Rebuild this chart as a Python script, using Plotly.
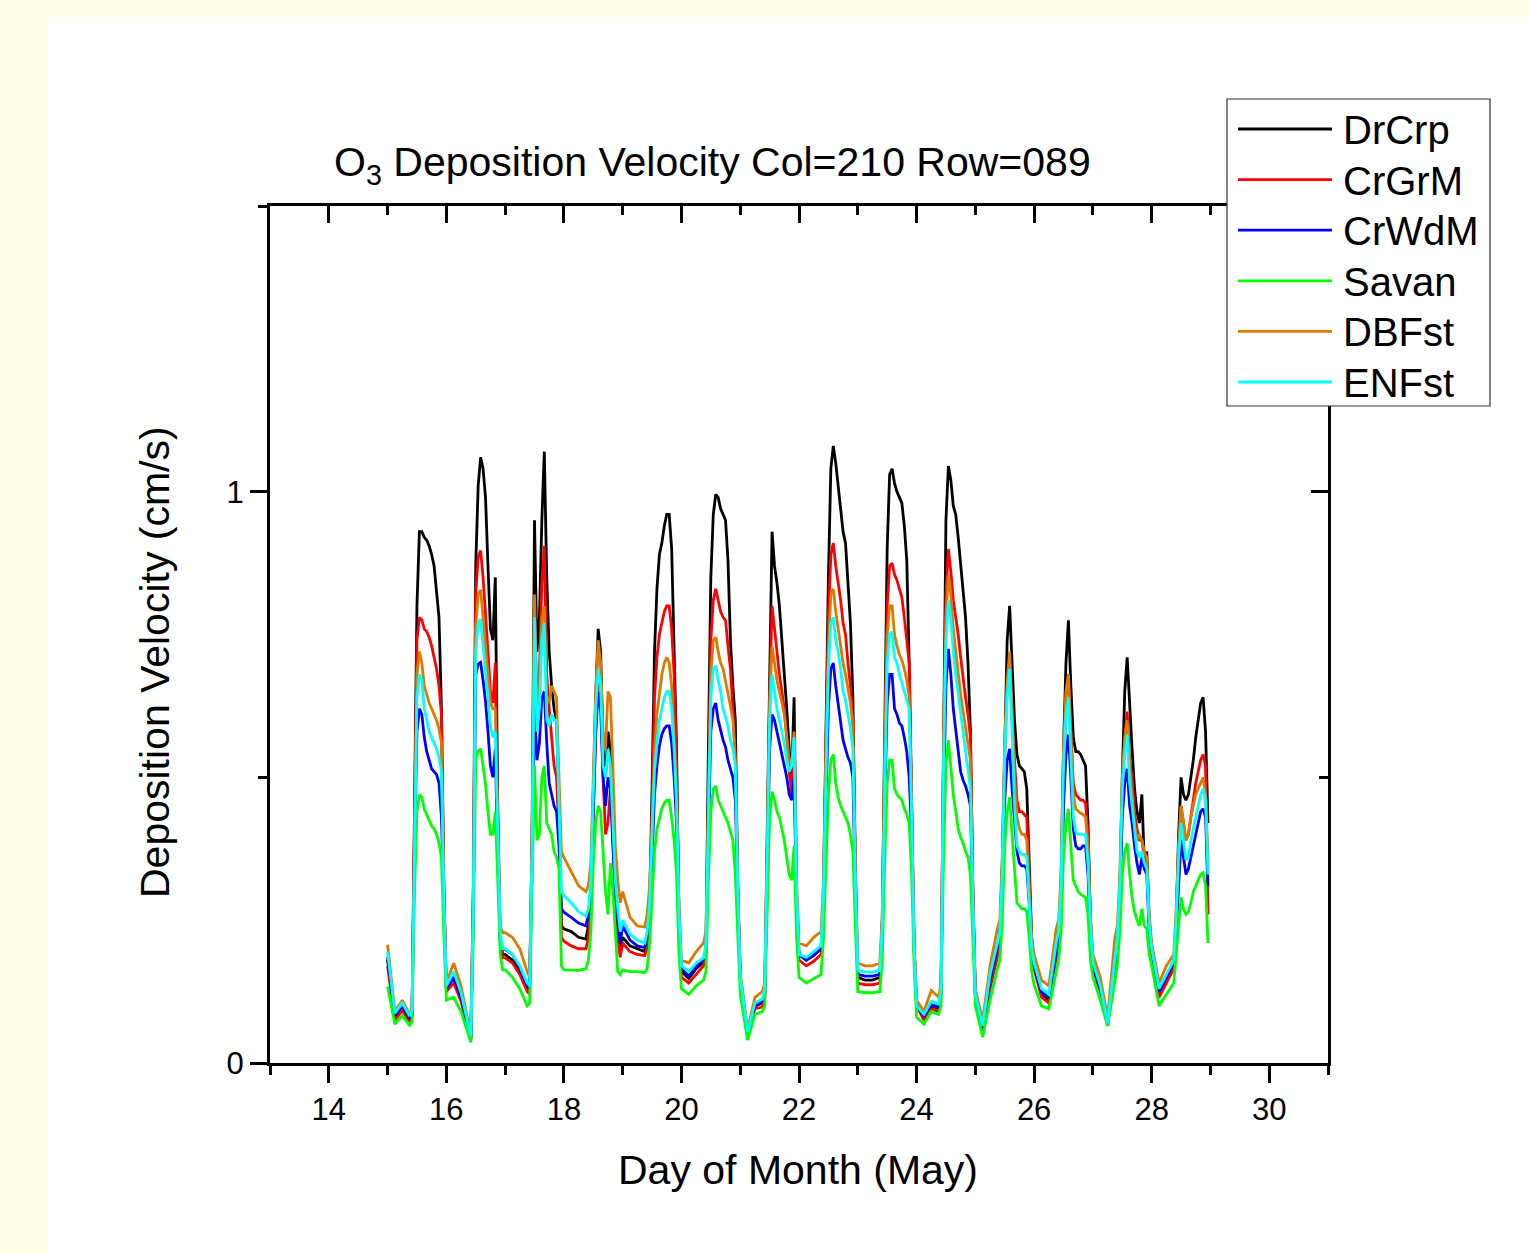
import plotly.graph_objects as go

# ---------------- data ----------------
days = list(range(15, 29))
hours = [0, 3, 6, 9, 10, 11, 12, 13, 14, 15, 16, 17, 18, 19, 20, 21, 22, 23]

drcrp = [
 .18,.08,.095,.076,.085,.45,.80,.93,.93,.92,.915,.905,.89,.87,.83,.78,.62,.30,
 .13,.15,.115,.06,.043,.30,.87,1.01,1.06,1.04,.99,.87,.76,.74,.85,.45,.22,.19,
 .19,.18,.16,.13,.125,.40,.95,.72,.78,.95,1.07,.85,.72,.66,.62,.60,.45,.24,
 .235,.23,.22,.217,.24,.30,.50,.64,.76,.72,.55,.50,.58,.55,.42,.30,.24,.20,
 .22,.205,.20,.195,.21,.28,.48,.72,.83,.89,.91,.94,.96,.96,.90,.72,.55,.25,
 .16,.148,.165,.177,.20,.55,.85,.96,.995,.99,.97,.96,.95,.88,.74,.66,.60,.30,
 .15,.05,.10,.105,.12,.40,.70,.93,.87,.84,.80,.74,.69,.62,.55,.50,.64,.30,
 .19,.18,.188,.20,.30,.60,.85,1.04,1.08,1.05,1.01,.98,.93,.91,.84,.77,.64,.35,
 .15,.145,.145,.15,.25,.60,.90,1.03,1.04,1.015,1.00,.99,.98,.94,.88,.70,.45,.20,
 .10,.08,.10,.095,.13,.60,.95,1.045,1.02,.975,.96,.92,.875,.83,.78,.70,.58,.30,
 .12,.06,.14,.195,.22,.35,.58,.74,.80,.70,.60,.54,.52,.515,.51,.48,.35,.22,
 .17,.12,.11,.195,.22,.32,.55,.70,.775,.66,.57,.545,.545,.54,.53,.52,.42,.25,
 .17,.13,.07,.16,.21,.30,.50,.65,.71,.62,.55,.48,.44,.42,.47,.35,.37,.25,
 .20,.12,.145,.17,.25,.40,.50,.47,.46,.47,.50,.53,.57,.60,.63,.64,.58,.42,
]
crgrm = [
 .17,.075,.092,.072,.08,.42,.74,.78,.775,.76,.755,.745,.73,.71,.69,.66,.61,.30,
 .125,.14,.108,.055,.04,.28,.82,.886,.897,.85,.79,.72,.65,.63,.70,.40,.21,.184,
 .184,.175,.155,.125,.12,.38,.80,.62,.68,.84,.905,.68,.62,.57,.52,.50,.40,.22,
 .213,.205,.20,.20,.22,.28,.45,.58,.68,.66,.50,.40,.42,.48,.40,.28,.22,.185,
 .21,.195,.19,.188,.20,.26,.44,.64,.71,.75,.77,.79,.80,.80,.76,.68,.52,.25,
 .15,.14,.155,.17,.19,.50,.74,.81,.83,.81,.79,.78,.775,.73,.69,.62,.54,.30,
 .15,.05,.095,.098,.11,.36,.64,.80,.76,.71,.68,.65,.62,.57,.51,.47,.55,.28,
 .18,.17,.178,.19,.28,.55,.78,.89,.91,.87,.84,.81,.77,.75,.70,.66,.60,.32,
 .14,.137,.137,.14,.23,.55,.80,.87,.875,.855,.845,.83,.815,.78,.74,.70,.45,.20,
 .10,.075,.095,.09,.12,.55,.82,.90,.86,.81,.78,.75,.71,.67,.64,.61,.57,.30,
 .12,.055,.13,.185,.21,.33,.54,.66,.70,.60,.52,.46,.44,.44,.435,.43,.33,.21,
 .165,.115,.105,.19,.21,.30,.50,.64,.68,.58,.49,.47,.465,.46,.46,.455,.40,.24,
 .165,.125,.065,.155,.20,.29,.47,.57,.615,.53,.50,.44,.41,.39,.39,.36,.35,.24,
 .19,.115,.14,.165,.24,.37,.45,.42,.39,.40,.43,.46,.49,.51,.53,.54,.52,.26,
]
crwdm = [
 .185,.083,.10,.078,.088,.38,.58,.62,.61,.57,.545,.53,.515,.51,.505,.49,.43,.28,
 .13,.15,.115,.06,.043,.26,.68,.698,.701,.67,.633,.58,.52,.50,.55,.36,.22,.199,
 .199,.19,.165,.135,.13,.35,.62,.53,.56,.64,.65,.56,.49,.47,.45,.44,.38,.27,
 .264,.255,.245,.24,.26,.30,.45,.58,.65,.62,.50,.45,.50,.48,.38,.30,.25,.21,
 .24,.215,.205,.202,.22,.26,.36,.47,.52,.555,.575,.585,.59,.59,.56,.50,.42,.24,
 .165,.152,.17,.181,.20,.40,.58,.62,.63,.60,.58,.565,.553,.53,.515,.50,.46,.28,
 .15,.052,.10,.108,.12,.32,.55,.61,.60,.58,.56,.54,.52,.50,.47,.46,.50,.28,
 .19,.18,.19,.20,.28,.45,.62,.69,.70,.66,.63,.60,.565,.55,.535,.525,.50,.30,
 .155,.152,.152,.155,.23,.45,.63,.68,.68,.62,.61,.595,.59,.57,.545,.50,.40,.20,
 .10,.082,.102,.098,.125,.45,.66,.725,.68,.62,.58,.545,.51,.495,.485,.47,.45,.28,
 .12,.06,.145,.20,.225,.30,.46,.53,.55,.48,.42,.37,.35,.345,.345,.34,.28,.20,
 .17,.125,.115,.20,.22,.28,.45,.54,.575,.50,.41,.38,.375,.375,.38,.38,.33,.22,
 .17,.13,.07,.17,.21,.29,.43,.49,.515,.45,.42,.38,.35,.33,.36,.34,.33,.23,
 .20,.125,.15,.175,.23,.32,.39,.36,.33,.34,.36,.38,.40,.42,.44,.445,.43,.31,
]
savan = [
 .134,.068,.083,.066,.072,.30,.44,.47,.465,.445,.435,.425,.415,.41,.40,.385,.36,.22,
 .11,.115,.09,.05,.036,.22,.53,.546,.55,.52,.488,.44,.40,.40,.44,.32,.19,.163,
 .163,.15,.13,.10,.105,.30,.52,.39,.40,.50,.52,.42,.41,.40,.37,.36,.34,.17,
 .163,.163,.162,.165,.18,.23,.35,.42,.45,.44,.36,.30,.26,.35,.30,.22,.16,.155,
 .163,.16,.16,.158,.165,.21,.29,.37,.41,.43,.445,.455,.46,.46,.43,.39,.33,.19,
 .13,.12,.135,.145,.16,.32,.44,.48,.485,.46,.45,.44,.43,.42,.405,.39,.33,.22,
 .12,.04,.085,.09,.10,.26,.43,.475,.46,.44,.43,.41,.39,.36,.33,.32,.38,.22,
 .15,.14,.148,.155,.22,.36,.47,.53,.54,.49,.465,.45,.44,.43,.42,.40,.37,.24,
 .125,.123,.123,.125,.18,.35,.49,.53,.53,.48,.47,.465,.46,.445,.435,.42,.33,.17,
 .08,.068,.09,.085,.10,.36,.52,.565,.52,.47,.44,.41,.395,.385,.37,.36,.33,.22,
 .10,.045,.11,.165,.18,.25,.38,.44,.465,.40,.33,.28,.275,.27,.27,.265,.22,.16,
 .137,.10,.095,.16,.18,.23,.36,.42,.445,.38,.32,.31,.30,.295,.293,.29,.26,.18,
 .15,.11,.065,.14,.17,.23,.33,.37,.385,.33,.29,.265,.25,.24,.27,.24,.235,.19,
 .17,.10,.12,.14,.19,.24,.29,.27,.26,.265,.28,.30,.31,.32,.33,.333,.31,.21,
]
dbfst = [
 .207,.09,.11,.085,.095,.42,.68,.72,.70,.66,.645,.63,.62,.61,.60,.585,.56,.30,
 .14,.175,.135,.07,.05,.28,.76,.82,.828,.78,.734,.68,.63,.62,.62,.42,.24,.228,
 .228,.22,.20,.16,.15,.38,.82,.62,.66,.78,.80,.64,.63,.66,.65,.64,.50,.37,
 .36,.335,.31,.30,.31,.35,.50,.65,.74,.70,.58,.55,.65,.64,.52,.38,.32,.28,
 .30,.255,.24,.238,.26,.31,.42,.55,.61,.65,.68,.70,.71,.70,.66,.57,.48,.28,
 .18,.175,.195,.21,.23,.45,.68,.74,.745,.72,.70,.69,.67,.65,.625,.60,.53,.32,
 .16,.058,.115,.125,.14,.36,.63,.73,.70,.67,.65,.63,.61,.57,.53,.52,.58,.32,
 .21,.205,.22,.23,.32,.55,.73,.82,.83,.79,.76,.73,.70,.68,.655,.63,.59,.34,
 .175,.17,.17,.175,.26,.55,.75,.80,.80,.75,.73,.715,.705,.69,.67,.64,.45,.22,
 .11,.09,.127,.115,.14,.55,.78,.855,.82,.76,.72,.68,.645,.615,.585,.56,.53,.30,
 .13,.075,.17,.235,.25,.36,.56,.67,.72,.62,.50,.43,.41,.40,.40,.39,.30,.22,
 .19,.145,.135,.235,.25,.33,.55,.65,.68,.58,.47,.445,.44,.437,.435,.43,.38,.26,
 .19,.15,.08,.22,.24,.33,.50,.57,.60,.52,.47,.42,.39,.40,.39,.37,.36,.26,
 .21,.14,.17,.19,.27,.38,.45,.42,.39,.40,.43,.45,.47,.48,.49,.50,.47,.36,
]
enfst = [
 .195,.087,.105,.082,.092,.40,.64,.68,.67,.62,.60,.58,.57,.56,.55,.535,.51,.28,
 .135,.16,.123,.065,.047,.27,.72,.77,.777,.73,.691,.64,.59,.57,.58,.38,.23,.20,
 .20,.19,.17,.14,.135,.37,.78,.58,.62,.74,.77,.60,.59,.61,.60,.60,.46,.30,
 .293,.28,.265,.257,.27,.32,.47,.62,.69,.66,.52,.50,.55,.52,.42,.32,.27,.23,
 .25,.225,.215,.21,.23,.28,.40,.51,.56,.60,.62,.64,.65,.65,.62,.55,.45,.26,
 .17,.16,.175,.184,.21,.42,.64,.69,.695,.67,.65,.62,.605,.59,.565,.55,.52,.30,
 .15,.054,.105,.112,.13,.34,.60,.68,.65,.62,.60,.58,.56,.53,.51,.52,.57,.30,
 .19,.185,.195,.205,.30,.50,.69,.77,.78,.74,.72,.69,.65,.635,.61,.585,.55,.32,
 .162,.159,.159,.162,.24,.50,.70,.75,.755,.71,.70,.68,.665,.65,.635,.62,.43,.20,
 .10,.085,.108,.103,.13,.52,.74,.81,.78,.72,.68,.645,.61,.575,.54,.51,.48,.28,
 .12,.065,.155,.21,.23,.33,.54,.64,.69,.58,.45,.38,.37,.365,.365,.36,.28,.20,
 .175,.13,.12,.21,.23,.31,.52,.61,.64,.54,.43,.405,.40,.40,.40,.40,.35,.24,
 .177,.135,.07,.19,.22,.31,.48,.54,.575,.49,.45,.41,.37,.36,.37,.35,.34,.24,
 .20,.13,.155,.18,.25,.36,.42,.39,.355,.36,.39,.41,.43,.45,.47,.48,.46,.33,
]

series_names = ["DrCrp", "CrGrM", "CrWdM", "Savan", "DBFst", "ENFst"]
series_values = [drcrp, crgrm, crwdm, savan, dbfst, enfst]
series_colors = ["#000000", "#FF0000", "#0000FF", "#00FF00", "#DC7A00", "#00FFFF"]

title_text = "O<sub>3</sub> Deposition Velocity Col=210 Row=089"
x_title = "Day of Month (May)"
y_title = "Deposition Velocity (cm/s)"

# time axis (day of month with fractional hours)
time = [d + h / 24.0 for d in days for h in hours]

# ---------------- figure ----------------
FONT = "Arial, Liberation Sans, sans-serif"
BG = "#FFFFE8"
fig = go.Figure()
for name, vals, col in zip(series_names, series_values, series_colors):
    fig.add_trace(go.Scatter(x=time, y=vals, mode="lines", name=name,
                             line=dict(color=col, width=2.8), hoverinfo="skip",
                             showlegend=False))

# dummy trace for mirrored (inside-tick) top/right axes
fig.add_trace(go.Scatter(x=[None], y=[None], xaxis="x2", yaxis="y2",
                         showlegend=False, hoverinfo="skip"))

W, H = 1529, 1254
L, R, T, B = 270, 1328, 206, 1063

def px(x):
    return (x - L) / (R - L)

def py(y):
    return (B - y) / (B - T)

axis_common = dict(showgrid=False, zeroline=False, linecolor="black", linewidth=3,
                   tickcolor="black", tickwidth=3)

shapes = [dict(type="rect", xref="paper", yref="paper",
               x0=px(48), x1=px(W + 50), y0=py(17), y1=py(H + 50),
               fillcolor="white", line=dict(width=0), layer="below")]
annotations = [
    dict(text=title_text, xref="paper", yref="paper", x=px(712), y=py(165),
         xanchor="center", yanchor="middle", showarrow=False,
         font=dict(size=41, family=FONT)),
    dict(text=x_title, xref="paper", yref="paper", x=px(798), y=py(1170),
         xanchor="center", yanchor="middle", showarrow=False,
         font=dict(size=41, family=FONT)),
    dict(text=y_title, xref="paper", yref="paper", x=px(155), y=py(662),
         xanchor="center", yanchor="middle", showarrow=False, textangle=-90,
         font=dict(size=41, family=FONT)),
]

# legend box (drawn by hand so spacing matches)
shapes.append(dict(type="rect", xref="paper", yref="paper",
                   x0=px(1227), x1=px(1490), y0=py(406), y1=py(99),
                   fillcolor="white", line=dict(color="#333333", width=1.2),
                   layer="above"))
for i, (name, col) in enumerate(zip(series_names, series_colors)):
    yc = 129 + i * 50.6
    shapes.append(dict(type="line", xref="paper", yref="paper",
                       x0=px(1238), x1=px(1332), y0=py(yc), y1=py(yc),
                       line=dict(color=col, width=2.8), layer="above"))
    annotations.append(dict(text=name, xref="paper", yref="paper",
                            x=px(1341), y=py(yc + 1), xanchor="left",
                            yanchor="middle", showarrow=False,
                            font=dict(size=40, family=FONT)))

fig.update_layout(
    width=W, height=H,
    margin=dict(l=L, r=W - R, t=T, b=H - B, pad=0),
    paper_bgcolor=BG,
    plot_bgcolor="white",
    font=dict(family=FONT, color="black", size=31),
    showlegend=False,
    xaxis=dict(range=[13, 31], tick0=14, dtick=2, ticks="outside", ticklen=17,
               tickfont=dict(size=31), showline=True,
               minor=dict(dtick=1, tick0=13, ticks="outside", ticklen=9,
                          tickcolor="black", tickwidth=3),
               **axis_common),
    yaxis=dict(range=[0, 1.5], tick0=0, dtick=1, ticks="outside", ticklen=17,
               tickfont=dict(size=31), showline=True,
               minor=dict(dtick=0.5, tick0=0, ticks="outside", ticklen=9,
                          tickcolor="black", tickwidth=3),
               **axis_common),
    xaxis2=dict(range=[13, 31], overlaying="x", side="top", anchor="y2",
                tick0=14, dtick=2, ticks="inside", ticklen=17, showticklabels=False,
                showline=True,
                minor=dict(dtick=1, tick0=13, ticks="inside", ticklen=9,
                           tickcolor="black", tickwidth=3),
                **axis_common),
    yaxis2=dict(range=[0, 1.5], overlaying="y", side="right", anchor="x2",
                tick0=0, dtick=1, ticks="inside", ticklen=17, showticklabels=False,
                showline=True,
                minor=dict(dtick=0.5, tick0=0, ticks="inside", ticklen=9,
                           tickcolor="black", tickwidth=3),
                **axis_common),
    shapes=shapes,
    annotations=annotations,
)

fig.write_html(
    "out.html",
    config={"displayModeBar": False},
    post_script=("document.body.style.margin='0';"
                 "document.body.style.background='" + BG + "';"),
)
